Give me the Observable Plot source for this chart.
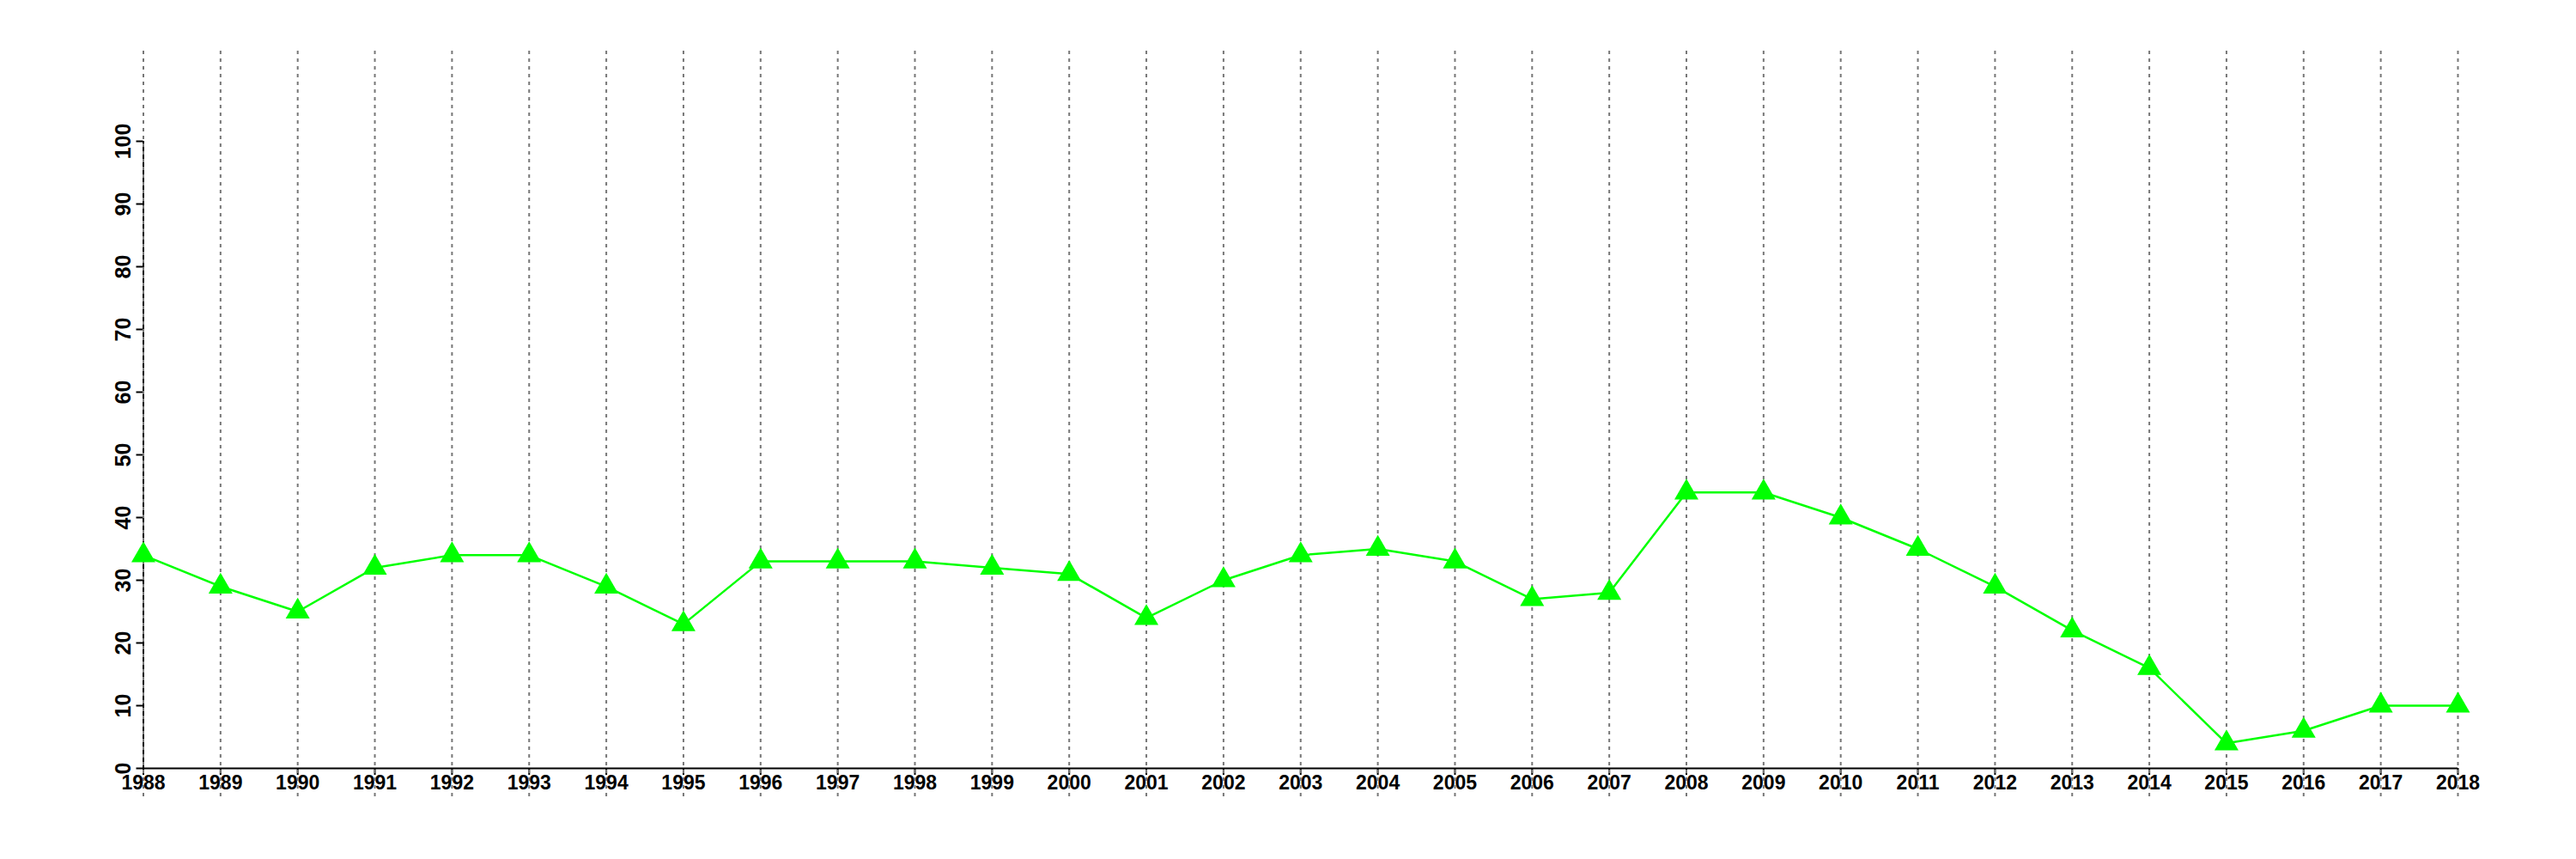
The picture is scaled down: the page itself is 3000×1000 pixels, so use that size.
<!DOCTYPE html>
<html>
<head>
<meta charset="utf-8">
<script src="https://cdn.jsdelivr.net/npm/d3@7"></script>
<script src="https://cdn.jsdelivr.net/npm/@observablehq/plot@0.6"></script>
<style>
  html, body { margin: 0; padding: 0; background: #fff; }
  #chart svg { display: block; }
</style>
</head>
<body>
<div id="chart"></div>
<script>
const years = [1988,1989,1990,1991,1992,1993,1994,1995,1996,1997,1998,1999,2000,2001,2002,2003,2004,2005,2006,2007,2008,2009,2010,2011,2012,2013,2014,2015,2016,2017,2018];
const values = [34,29,25,32,34,34,29,23,33,33,33,32,31,24,30,34,35,33,27,28,44,44,40,35,29,22,16,4,6,10,10];
const yTicks = [0,10,20,30,40,50,60,70,80,90,100];

const data = years.map((y, i) => ({year: y, value: values[i]}));

const chart = Plot.plot({
  width: 3000,
  height: 1000,
  marginLeft: 166.5,
  marginRight: 138,
  marginTop: 59,
  marginBottom: 106,
  style: {fontFamily: "'Liberation Sans', Arial, Helvetica, sans-serif", fontSize: "23px", color: "#000", background: "#fff"},
  x: {type: "linear", domain: [1988, 2018], range: [166.5, 2862]},
  y: {domain: [0, 100], range: [894, 164]},
  marks: [
    Plot.ruleY([0], {x1: years[0], x2: years[years.length - 1], stroke: "#000", strokeWidth: 2}),
    Plot.ruleX([years[0]], {y1: yTicks[0], y2: yTicks[yTicks.length - 1], stroke: "#000", strokeWidth: 2}),
    Plot.axisX({ticks: years, tickFormat: d => String(d), tickSize: 8, tickPadding: 0, strokeWidth: 2, fontSize: 23, fontWeight: "bold", label: null}),
    Plot.axisY({ticks: yTicks, tickSize: 8, tickPadding: 7, strokeWidth: 2, tickRotate: -90, fontSize: 25, fontWeight: "bold", label: null}),
    Plot.ruleX(years, {stroke: "#777", strokeWidth: 2, strokeDasharray: "4,5", insetBottom: -33}),
    Plot.line(data, {x: "year", y: "value", stroke: "#00ff00", strokeWidth: 2.5}),
    Plot.dot(data, {x: "year", y: "value", symbol: "triangle", r: 10.4, fill: "#00ff00", stroke: "none"})
  ]
});
document.getElementById("chart").appendChild(chart);
</script>
</body>
</html>
